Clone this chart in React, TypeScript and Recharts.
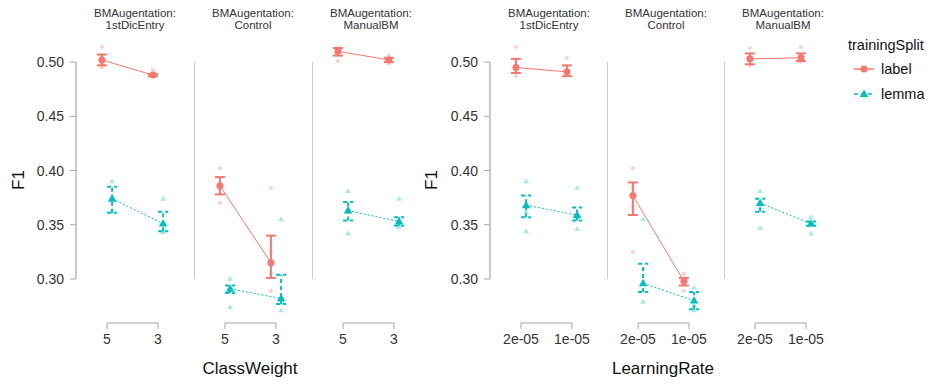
import { ComposedChart, Scatter, XAxis, YAxis, ErrorBar, ReferenceLine } from 'recharts';

const RED = '#F8766D';
const TEAL = '#00BFC4';
const AXIS = '#a6a6a6';
const FONT = '"Liberation Sans", Arial, sans-serif';

const augmentations = ['1stDicEntry', 'Control', 'ManualBM'];
const classWeightTicks = ['5', '3'];
const learningRateTicks = ['2e-05', '1e-05'];
const yTicks = [0.3, 0.35, 0.4, 0.45, 0.5];

// ClassWeight facets: [panel][level]
const cwLabelMean = [[0.502, 0.488], [0.386, 0.315], [0.510, 0.502]];
const cwLabelLow = [[0.497, 0.487], [0.378, 0.301], [0.506, 0.500]];
const cwLabelHigh = [[0.507, 0.489], [0.394, 0.340], [0.513, 0.504]];
const cwLemmaMean = [[0.374, 0.351], [0.291, 0.282], [0.363, 0.353]];
const cwLemmaLow = [[0.361, 0.344], [0.287, 0.277], [0.354, 0.349]];
const cwLemmaHigh = [[0.385, 0.362], [0.294, 0.304], [0.371, 0.357]];
const cwLabelRaw = [
  [[0.514, 0.505, 0.499, 0.495], [0.493, 0.488, 0.487]],
  [[0.402, 0.386, 0.370], [0.384, 0.325, 0.305, 0.289]],
  [[0.513, 0.509, 0.501], [0.506, 0.502, 0.499]],
];
const cwLemmaRaw = [
  [[0.390, 0.375, 0.362], [0.374, 0.345, 0.343]],
  [[0.300, 0.291, 0.274], [0.355, 0.283, 0.278, 0.271]],
  [[0.381, 0.365, 0.342], [0.374, 0.352, 0.348]],
];

// LearningRate facets: [panel][level]
const lrLabelMean = [[0.495, 0.491], [0.377, 0.298], [0.503, 0.504]];
const lrLabelLow = [[0.490, 0.487], [0.359, 0.294], [0.498, 0.501]];
const lrLabelHigh = [[0.503, 0.497], [0.389, 0.301], [0.508, 0.508]];
const lrLemmaMean = [[0.368, 0.359], [0.296, 0.280], [0.370, 0.351]];
const lrLemmaLow = [[0.357, 0.354], [0.288, 0.272], [0.362, 0.349]];
const lrLemmaHigh = [[0.377, 0.366], [0.314, 0.288], [0.374, 0.353]];
const lrLabelRaw = [
  [[0.514, 0.497, 0.487], [0.504, 0.490, 0.488]],
  [[0.402, 0.385, 0.366, 0.325], [0.305, 0.298, 0.289]],
  [[0.513, 0.503, 0.497], [0.514, 0.505, 0.500]],
];
const lrLemmaRaw = [
  [[0.390, 0.362, 0.344], [0.384, 0.357, 0.346]],
  [[0.355, 0.296, 0.279], [0.292, 0.276, 0.271]],
  [[0.381, 0.366, 0.347], [0.357, 0.350, 0.342]],
];

const X_DOMAIN = [-0.608, 1.706];
const Y_DOMAIN = [0.2594, 0.525];
const PLOT_TOP = 35;
const PLOT_H = 288;
const PANEL_W = 118;
const Y_AXIS_W = 60;
const X_AXIS_H = 40;
const DODGE = 0.1;

const buildMeans = (mean: number[], low: number[], high: number[], offset: number) =>
  mean.map((m, i) => ({ x: i + offset, y: m, err: [m - low[i], high[i] - m] }));

const buildRaw = (raw: number[][], offset: number) =>
  raw.flatMap((vals, i) => vals.map((v) => ({ x: i + offset, y: v })));

const dot = (color: string, r: number, opacity: number) => (props: any) => (
  <circle cx={props.cx} cy={props.cy} r={r} fill={color} fillOpacity={opacity} />
);

const tri = (color: string, s: number, opacity: number) => (props: any) => {
  const { cx, cy } = props;
  return (
    <path
      d={`M${cx},${cy - s} L${cx + s * 0.95},${cy + s * 0.65} L${cx - s * 0.95},${cy + s * 0.65} Z`}
      fill={color}
      fillOpacity={opacity}
    />
  );
};

const tickStyle = { fill: '#333', fontSize: 14, fontFamily: FONT };

function Panel(props: any) {
  const { left, first, ticks, p, labelMean, labelLow, labelHigh, lemmaMean, lemmaLow, lemmaHigh, labelRaw, lemmaRaw } = props;
  const width = PANEL_W + (first ? Y_AXIS_W : 0);
  const labelData = buildMeans(labelMean[p], labelLow[p], labelHigh[p], -DODGE);
  const lemmaData = buildMeans(lemmaMean[p], lemmaLow[p], lemmaHigh[p], DODGE);
  return (
    <div style={{ position: 'absolute', left: left - (first ? Y_AXIS_W : 0), top: PLOT_TOP }}>
      <ComposedChart width={width} height={PLOT_H + X_AXIS_H} margin={{ top: 0, right: 0, bottom: 0, left: 0 }}>
        <XAxis
          type="number"
          dataKey="x"
          domain={X_DOMAIN}
          allowDataOverflow
          ticks={[0, 1]}
          interval={0}
          tickFormatter={(v: number) => ticks[v]}
          axisLine={false}
          tickLine={{ stroke: AXIS }}
          tickSize={6}
          tickMargin={5}
          height={X_AXIS_H}
          tick={tickStyle}
        />
        <YAxis
          type="number"
          dataKey="y"
          domain={Y_DOMAIN}
          allowDataOverflow
          ticks={yTicks}
          interval={0}
          tickFormatter={(v: number) => v.toFixed(2)}
          hide={!first}
          width={Y_AXIS_W}
          axisLine={false}
          tickLine={{ stroke: AXIS }}
          tickSize={6}
          tickMargin={6}
          tick={tickStyle}
        />
        <ReferenceLine
          segment={[{ x: X_DOMAIN[0], y: 0.3 }, { x: X_DOMAIN[0], y: 0.5 }]}
          stroke={AXIS}
          strokeWidth={1.2}
        />
        <ReferenceLine
          segment={[{ x: 0, y: Y_DOMAIN[0] }, { x: 1, y: Y_DOMAIN[0] }]}
          stroke={AXIS}
          strokeWidth={1.2}
        />
        <Scatter data={buildRaw(labelRaw[p], -DODGE)} shape={dot(RED, 2, 0.35)} isAnimationActive={false} />
        <Scatter data={buildRaw(lemmaRaw[p], DODGE)} shape={tri(TEAL, 3, 0.35)} isAnimationActive={false} />
        <Scatter
          data={labelData}
          shape={dot(RED, 3.5, 1)}
          line={{ stroke: RED, strokeWidth: 1 }}
          isAnimationActive={false}
        >
          <ErrorBar dataKey="err" direction="y" width={5} stroke={RED} strokeWidth={2} isAnimationActive={false} />
        </Scatter>
        <Scatter
          data={lemmaData}
          shape={tri(TEAL, 4.5, 1)}
          line={{ stroke: TEAL, strokeWidth: 1, strokeDasharray: '2 2' }}
          isAnimationActive={false}
        >
          <ErrorBar
            dataKey="err"
            direction="y"
            width={5}
            stroke={TEAL}
            strokeWidth={2}
            strokeDasharray="4 3"
            isAnimationActive={false}
          />
        </Scatter>
      </ComposedChart>
    </div>
  );
}

function Text({ x, y, size, color, children, rotate }: any) {
  return (
    <div
      style={{
        position: 'absolute',
        left: x,
        top: y,
        transform: `translate(-50%, -50%)${rotate ? ` rotate(${rotate}deg)` : ''}`,
        fontSize: size,
        color,
        fontFamily: FONT,
        whiteSpace: 'nowrap',
        textAlign: 'center',
        lineHeight: '12px',
      }}
    >
      {children}
    </div>
  );
}

const groups = [
  {
    axisX: 76,
    ticks: classWeightTicks,
    title: 'ClassWeight',
    titleX: 250,
    fX: 19,
    labelMean: cwLabelMean, labelLow: cwLabelLow, labelHigh: cwLabelHigh,
    lemmaMean: cwLemmaMean, lemmaLow: cwLemmaLow, lemmaHigh: cwLemmaHigh,
    labelRaw: cwLabelRaw, lemmaRaw: cwLemmaRaw,
  },
  {
    axisX: 490,
    ticks: learningRateTicks,
    title: 'LearningRate',
    titleX: 663,
    fX: 432,
    labelMean: lrLabelMean, labelLow: lrLabelLow, labelHigh: lrLabelHigh,
    lemmaMean: lrLemmaMean, lemmaLow: lrLemmaLow, lemmaHigh: lrLemmaHigh,
    labelRaw: lrLabelRaw, lemmaRaw: lrLemmaRaw,
  },
];

export default function App() {
  return (
    <div style={{ position: 'absolute', left: 0, top: 0, width: 931, height: 387, background: '#fff', fontFamily: FONT }}>
      {groups.map((g, gi) => (
        <div key={gi}>
          {augmentations.map((aug, p) => {
            const left = g.axisX + p * (gi === 0 ? 118 : 117);
            return (
              <div key={aug}>
                <Panel {...g} left={left} first={p === 0} p={p} />
                <Text x={left + PANEL_W / 2} y={19} size={11.5} color="#333">
                  BMAugentation:
                  <br />
                  {aug}
                </Text>
              </div>
            );
          })}
          <Text x={g.titleX} y={369} size={17} color="#111">
            {g.title}
          </Text>
          <Text x={g.fX} y={180} size={17} color="#111" rotate={-90}>
            F1
          </Text>
        </div>
      ))}
      <div style={{ position: 'absolute', left: 848, top: 37, fontSize: 14.5, color: '#111', fontFamily: FONT }}>
        trainingSplit
      </div>
      <div style={{ position: 'absolute', left: 852, top: 60, display: 'flex', alignItems: 'center', fontSize: 14.5, color: '#111' }}>
        <svg width={24} height={18}>
          <line x1={2} x2={22} y1={9} y2={9} stroke={RED} strokeWidth={1.5} />
          <circle cx={12} cy={9} r={3.5} fill={RED} />
        </svg>
        <span style={{ marginLeft: 5 }}>label</span>
      </div>
      <div style={{ position: 'absolute', left: 852, top: 85, display: 'flex', alignItems: 'center', fontSize: 14.5, color: '#111' }}>
        <svg width={24} height={18}>
          <line x1={2} x2={22} y1={9} y2={9} stroke={TEAL} strokeWidth={1.5} strokeDasharray="4 3" />
          <path d="M12,4.5 L16.3,11.9 L7.7,11.9 Z" fill={TEAL} />
        </svg>
        <span style={{ marginLeft: 5 }}>lemma</span>
      </div>
    </div>
  );
}
